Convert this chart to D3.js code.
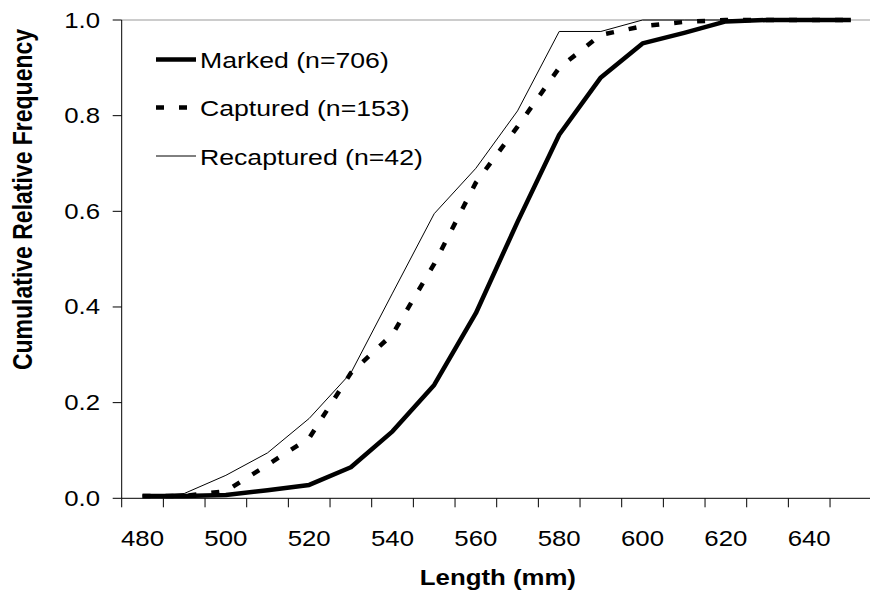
<!DOCTYPE html>
<html>
<head>
<meta charset="utf-8">
<script src="https://cdn.jsdelivr.net/npm/d3@7"></script>
<style>
  html, body { margin: 0; padding: 0; background: #fff; }
  svg { display: block; font-family: "Liberation Sans", Arial, sans-serif; }
</style>
</head>
<body>
<svg id="chart" width="870" height="594"></svg>
<script>
// ---- data ----
const categories = [480, 490, 500, 510, 520, 530, 540, 550, 560, 570, 580, 590, 600, 610, 620, 630, 640, 650];
const marked     = [0.005, 0.005, 0.007, 0.017, 0.028, 0.065, 0.140, 0.237, 0.387, 0.578, 0.760, 0.880, 0.951, 0.973, 0.997, 1.000, 1.000, 1.000];
const captured   = [0.005, 0.005, 0.015, 0.070, 0.126, 0.262, 0.343, 0.490, 0.660, 0.777, 0.900, 0.969, 0.987, 0.996, 1.000, 1.000, 1.000, 1.000];
const recaptured = [0.005, 0.010, 0.048, 0.095, 0.167, 0.262, 0.429, 0.595, 0.690, 0.810, 0.976, 0.976, 1.000, 1.000, 1.000, 1.000, 1.000, 1.000];
const xTickLabels = ["480", "500", "520", "540", "560", "580", "600", "620", "640"];
const yTickValues = [0, 0.2, 0.4, 0.6, 0.8, 1.0];
const seriesNames = ["Marked (n=706)", "Captured (n=153)", "Recaptured (n=42)"];

// ---- layout ----
const pLeft = 121.7, pRight = 871.7, pTop = 20, pBottom = 498.3;
const SX = 1.2; // horizontal text stretch of the original picture

const svg = d3.select("#chart");

const x = d3.scaleBand().domain(categories).range([pLeft, pRight]).paddingInner(0).paddingOuter(0);
const cx = c => x(c) + x.bandwidth() / 2;
const y = d3.scaleLinear().domain([0, 1]).range([pBottom, pTop]);

// plot area border (gray top / right)
svg.append("line").attr("x1", pLeft).attr("x2", pRight).attr("y1", pTop).attr("y2", pTop)
  .attr("stroke", "#999").attr("stroke-width", 1);
svg.append("line").attr("x1", pRight).attr("x2", pRight).attr("y1", pTop).attr("y2", pBottom)
  .attr("stroke", "#999").attr("stroke-width", 1);

// series
const styles = [
  { data: marked, width: 4.5, dash: null },
  { data: captured, width: 4.5, dash: "8,15" },
  { data: recaptured, width: 1, dash: null }
];
const line = d3.line().x((d, i) => cx(categories[i])).y(d => y(d));
styles.forEach(s => {
  svg.append("path")
    .attr("d", line(s.data))
    .attr("fill", "none")
    .attr("stroke", "#000")
    .attr("stroke-width", s.width)
    .attr("stroke-linejoin", "round")
    .attr("stroke-dasharray", s.dash);
});

// y axis
const yAxis = svg.append("g");
yAxis.append("line").attr("x1", pLeft).attr("x2", pLeft).attr("y1", pTop).attr("y2", pBottom)
  .attr("stroke", "#000").attr("stroke-width", 1);
yTickValues.forEach(v => {
  yAxis.append("line").attr("x1", pLeft - 9).attr("x2", pLeft).attr("y1", y(v)).attr("y2", y(v))
    .attr("stroke", "#000").attr("stroke-width", 1);
  yAxis.append("text")
    .attr("transform", `translate(100,${y(v) + 7.5}) scale(${SX},1)`)
    .attr("text-anchor", "end")
    .attr("font-size", 21.5)
    .attr("fill", "#000")
    .text(d3.format(".1f")(v));
});

// x axis
const xAxis = svg.append("g");
xAxis.append("line").attr("x1", pLeft).attr("x2", pRight).attr("y1", pBottom).attr("y2", pBottom)
  .attr("stroke", "#000").attr("stroke-width", 1);
categories.concat([null]).forEach(c => {
  const xp = c === null ? pRight : x(c);
  xAxis.append("line").attr("x1", xp).attr("x2", xp).attr("y1", pBottom).attr("y2", pBottom + 9)
    .attr("stroke", "#000").attr("stroke-width", 1);
});
xTickLabels.forEach(lab => {
  xAxis.append("text")
    .attr("transform", `translate(${cx(+lab)},546) scale(${SX},1)`)
    .attr("text-anchor", "middle")
    .attr("font-size", 21.5)
    .attr("fill", "#000")
    .text(lab);
});

// axis titles
svg.append("text")
  .attr("transform", `translate(${cx(560) + 22},585) scale(${SX},1)`)
  .attr("text-anchor", "middle")
  .attr("font-size", 21.5)
  .attr("font-weight", "bold")
  .text("Length (mm)");
svg.append("text")
  .attr("transform", `translate(32,199.5) scale(${SX},1) rotate(-90)`)
  .attr("text-anchor", "middle")
  .attr("font-size", 23)
  .attr("font-weight", "bold")
  .text("Cumulative Relative Frequency");

// legend
const legendY = [59.5, 107.5, 156];
seriesNames.forEach((name, i) => {
  svg.append("line")
    .attr("x1", 156).attr("x2", 196).attr("y1", legendY[i]).attr("y2", legendY[i])
    .attr("stroke", "#000")
    .attr("stroke-width", styles[i].width)
    .attr("stroke-dasharray", styles[i].dash);
  svg.append("text")
    .attr("transform", `translate(200,${legendY[i] + 8.5}) scale(${SX},1)`)
    .attr("font-size", 22.2)
    .attr("fill", "#000")
    .text(name);
});
</script>
</body>
</html>
